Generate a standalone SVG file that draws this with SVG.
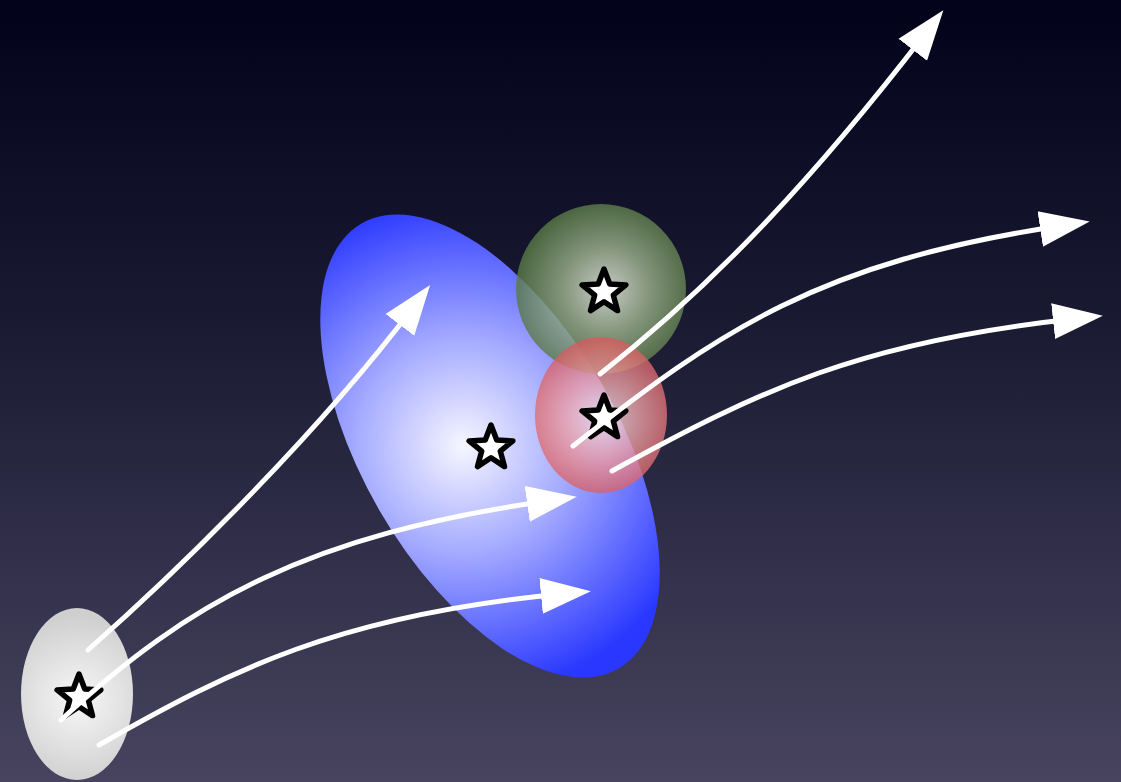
<svg xmlns="http://www.w3.org/2000/svg" xmlns:xlink="http://www.w3.org/1999/xlink" width="1121" height="782" viewBox="0 0 1121 782">
<defs>
  <linearGradient id="bg" x1="0" y1="0" x2="0" y2="1">
    <stop offset="0" stop-color="#02021a"/>
    <stop offset="0.4" stop-color="#191932"/>
    <stop offset="1" stop-color="#48445f"/>
  </linearGradient>
  <radialGradient id="gBlue" gradientUnits="userSpaceOnUse" cx="476" cy="470" r="250">
    <stop offset="0" stop-color="#f6f6ff"/>
    <stop offset="0.42" stop-color="#a6acff"/>
    <stop offset="1" stop-color="#2a38ff"/>
  </radialGradient>
  <radialGradient id="gGreen" gradientUnits="userSpaceOnUse" cx="606" cy="290" r="88">
    <stop offset="0" stop-color="#f2f7ea"/>
    <stop offset="0.5" stop-color="#9db48c"/>
    <stop offset="1" stop-color="#5a7a46"/>
  </radialGradient>
  <radialGradient id="gRed" gradientUnits="userSpaceOnUse" cx="603" cy="418" r="78">
    <stop offset="0" stop-color="#fbeaec"/>
    <stop offset="0.5" stop-color="#f0a0a4"/>
    <stop offset="1" stop-color="#d85a5e"/>
  </radialGradient>
  <radialGradient id="gGrey" gradientUnits="userSpaceOnUse" cx="78" cy="700" r="85">
    <stop offset="0" stop-color="#f7f7f7"/>
    <stop offset="1" stop-color="#cfcfcf"/>
  </radialGradient>
  <polygon id="star" points="0,-23 5.75,-7.91 21.87,-7.11 9.3,3.02 13.52,18.61 0,9.78 -13.52,18.61 -9.3,3.02 -21.87,-7.11 -5.75,-7.91"/>
  <marker id="head" markerUnits="userSpaceOnUse" markerWidth="52" markerHeight="40" viewBox="0 0 52 40" refX="20" refY="19" orient="auto">
    <path d="M0,1 L50,19 L0,37 z" fill="#ffffff"/>
  </marker>
  <style>
    .star { fill: #ffffff; stroke: #000000; stroke-width: 5.5; stroke-linejoin: round; }
    .arrow { fill: none; stroke: #ffffff; stroke-width: 5; stroke-linecap: round; marker-end: url(#head); }
  </style>
</defs>
<rect x="0" y="0" width="1121" height="782" fill="url(#bg)"/>
<g id="blue-ellipse">
  <ellipse cx="490" cy="446" rx="257" ry="128" transform="rotate(60 490 446)" fill="url(#gBlue)"/>
  <use xlink:href="#star" href="#star" class="star" x="491" y="448"/>
</g>
<g id="green-circle">
  <circle cx="601" cy="289" r="85" fill="url(#gGreen)" opacity="0.8"/>
  <use xlink:href="#star" href="#star" class="star" x="604" y="292"/>
</g>
<g id="red-circle">
  <ellipse cx="601" cy="415" rx="66" ry="78" fill="url(#gRed)" opacity="0.78"/>
  <use xlink:href="#star" href="#star" class="star" x="604" y="418"/>
</g>
<g id="grey-ellipse">
  <ellipse cx="77" cy="694" rx="56" ry="86" fill="url(#gGrey)"/>
  <use xlink:href="#star" href="#star" class="star" x="79" y="697"/>
</g>
<g id="connectors">
  <path class="arrow" d="M88,650 C190,560 320,430 412,309"/>
  <path class="arrow" d="M61,720 C190,600 310,535 547,501"/>
  <path class="arrow" d="M99,745 C230,670 340,615 561,594"/>
  <path class="arrow" d="M600,374 C720,280 820,170 925,34"/>
  <path class="arrow" d="M573,446 C720,330 820,262 1060,226"/>
  <path class="arrow" d="M612,471 C760,390 860,342 1073,319"/>
</g>
</svg>
